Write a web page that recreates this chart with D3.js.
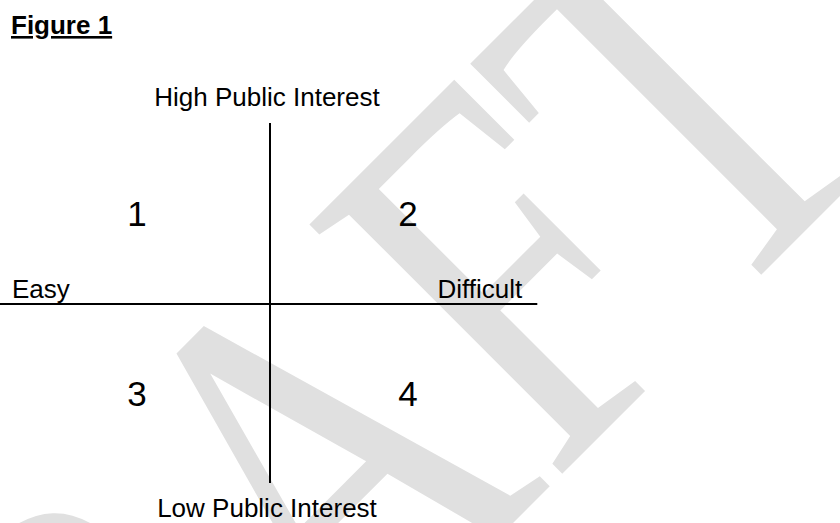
<!DOCTYPE html>
<html>
<head>
<meta charset="utf-8">
<script src="https://cdn.jsdelivr.net/npm/d3@7"></script>
<style>
  body { margin: 0; background: #fff; }
  svg text { font-variant-ligatures: none; }
</style>
</head>
<body>
<div id="chart"></div>
<script>
// Quadrant labels and axis end labels
const quadrantIds = ["1", "2", "3", "4"];
const quadrantCols = [-1, 1, -1, 1];
const quadrantRows = [1, 1, -1, -1];
const xEnds = ["Easy", "Difficult"];
const yEnds = ["High Public Interest", "Low Public Interest"];
const figureTitle = "Figure 1";
const watermarkText = "DRAFT";

const W = 840, H = 523;

const svg = d3.select("#chart")
    .append("svg")
    .attr("width", W)
    .attr("height", H);

// Watermark, behind everything
svg.append("text")
    .attr("transform", `translate(896,140) rotate(-45) scale(1,1.3)`)
    .attr("text-anchor", "end")
    .attr("font-family", "'Liberation Serif', 'Times New Roman', serif")
    .attr("font-size", 417)
    .attr("fill", "#e0e0e0")
    .text(watermarkText);

// Scales for the quadrant frame
const x = d3.scaleLinear().domain([-1, 1]).range([0, 540]);
const y = d3.scaleLinear().domain([-1, 1]).range([483, 123]);

const font = "'Liberation Sans', Arial, sans-serif";

// Title
svg.append("text")
    .attr("x", 11)
    .attr("y", 34)
    .attr("font-family", font)
    .attr("font-weight", "bold")
    .attr("font-size", 26)
    .attr("text-decoration", "underline")
    .text(figureTitle);

// Axes
svg.append("line")
    .attr("x1", x(0)).attr("x2", x(0))
    .attr("y1", y(1)).attr("y2", y(-1))
    .attr("stroke", "#000")
    .attr("stroke-width", 2);

svg.append("line")
    .attr("x1", x(-1)).attr("x2", x(0.99))
    .attr("y1", y(0) + 1).attr("y2", y(0) + 1)
    .attr("stroke", "#000")
    .attr("stroke-width", 2);

// Axis end labels
svg.append("text")
    .attr("x", x(0) - 3)
    .attr("y", y(1) - 17)
    .attr("text-anchor", "middle")
    .attr("font-family", font)
    .attr("font-size", 26)
    .text(yEnds[0]);

svg.append("text")
    .attr("x", x(0) - 3)
    .attr("y", y(-1) + 34)
    .attr("text-anchor", "middle")
    .attr("font-family", font)
    .attr("font-size", 26)
    .text(yEnds[1]);

svg.append("text")
    .attr("x", x(-1) + 12)
    .attr("y", y(0) - 5)
    .attr("text-anchor", "start")
    .attr("font-family", font)
    .attr("font-size", 26)
    .text(xEnds[0]);

svg.append("text")
    .attr("x", x(0.99) - 15)
    .attr("y", y(0) - 5)
    .attr("text-anchor", "end")
    .attr("font-family", font)
    .attr("font-size", 26)
    .text(xEnds[1]);

// Quadrant numbers
svg.selectAll(".quad")
    .data(quadrantIds)
    .join("text")
    .attr("class", "quad")
    .attr("x", (d, i) => x(quadrantCols[i] * 0.5) + (quadrantCols[i] < 0 ? 2 : 3))
    .attr("y", (d, i) => y(quadrantRows[i] * 0.5))
    .attr("dy", "0.36em")
    .attr("text-anchor", "middle")
    .attr("font-family", font)
    .attr("font-size", 35)
    .text(d => d);
</script>
</body>
</html>
